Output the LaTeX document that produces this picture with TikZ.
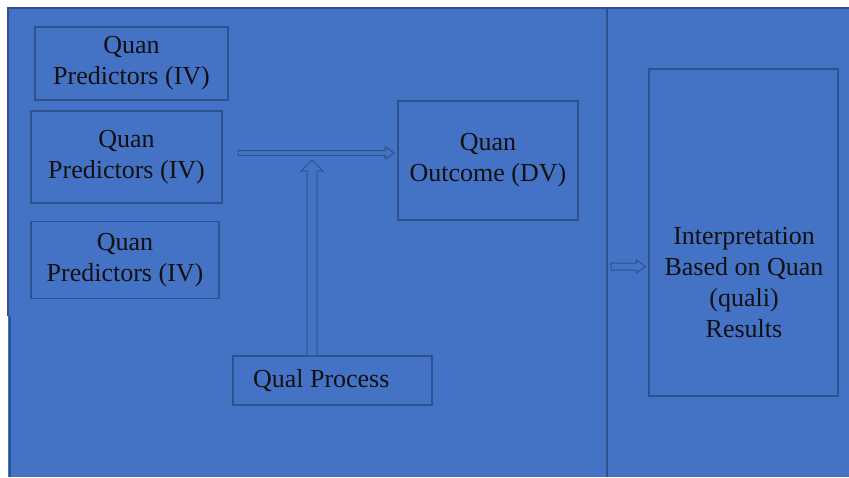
\documentclass[tikz,border=0pt]{standalone}
\usepackage{fontspec}
\setmainfont{Liberation Serif}
\usetikzlibrary{arrows.meta,calc}
\definecolor{bgblue}{HTML}{4472C4}
\definecolor{edgeblue}{HTML}{2F528F}
\definecolor{inktext}{HTML}{111111}
\begin{document}
\begin{tikzpicture}[x=1pt,y=-1pt,
  boxnode/.style={draw=edgeblue, line width=1.2pt, align=center, text=inktext, inner sep=0pt, font=\fontsize{26}{31}\selectfont},
  txtnode/.style={align=center, text=inktext, inner sep=0pt, font=\fontsize{26}{31}\selectfont},
  blockarrow/.style={draw=edgeblue, line width=1pt, fill=bgblue, line join=miter},
]
\useasboundingbox (0,0) rectangle (849,477);
\fill[white] (0,0) rectangle (849,477);
\fill[bgblue] (8,8) rectangle (849,477);
% outer borders
\draw[edgeblue, line width=1.2pt] (8,316) -- (8,8) -- (849,8);
\draw[edgeblue, line width=1.2pt] (10,316) -- (10,477);
\draw[edgeblue, line width=1.2pt] (607,8) -- (607,477);
% boxes
\node[boxnode, minimum width=193pt, minimum height=73pt] (q1) at (131.5,63.5) {Quan\\Predictors (IV)};
\node[boxnode, minimum width=191pt, minimum height=92pt] (q2) at (126.5,157) {Quan\\Predictors (IV)};
\node[boxnode, minimum width=188pt, minimum height=77pt] (q3) at (125,260) {Quan\\Predictors (IV)};
\node[boxnode, minimum width=180pt, minimum height=119pt] (out) at (488,160.5) {Quan\\Outcome (DV)};
\node[boxnode, minimum width=189pt, minimum height=327pt] (interp) at (743.5,232.5) {};
\node[txtnode] (interptxt) at (744,283) {Interpretation\\Based on Quan\\(quali)\\Results};
\node[boxnode, minimum width=199pt, minimum height=49pt] (qual) at (332.5,380.5) {\makebox[159pt][l]{Qual Process}};
% arrows
\coordinate (h1) at (238,153);
\coordinate (h2) at ($(out.west |- h1)+(-3,0)$);
\coordinate (v1) at (312,160);
\coordinate (v0) at (qual.north -| v1);
\coordinate (s1) at (611,266.5);
\coordinate (s2) at ($(interp.west |- s1)+(-3,0)$);
\draw[blockarrow] ($(h1)+(0,-2.5)$) -- ($(h2)+(-9,-2.5)$) -- ($(h2)+(-9,-6)$) -- (h2) -- ($(h2)+(-9,6)$) -- ($(h2)+(-9,2.5)$) -- ($(h1)+(0,2.5)$) -- cycle;
\draw[blockarrow] ($(v0)+(-5,0)$) -- ($(v1)+(-5,11)$) -- ($(v1)+(-11,11)$) -- (v1) -- ($(v1)+(11,11)$) -- ($(v1)+(5,11)$) -- ($(v0)+(5,0)$);
\draw[blockarrow] ($(s1)+(0,-3.5)$) -- ($(s2)+(-9,-3.5)$) -- ($(s2)+(-9,-6.5)$) -- (s2) -- ($(s2)+(-9,6.5)$) -- ($(s2)+(-9,3.5)$) -- ($(s1)+(0,3.5)$) -- cycle;
\end{tikzpicture}
\end{document}
